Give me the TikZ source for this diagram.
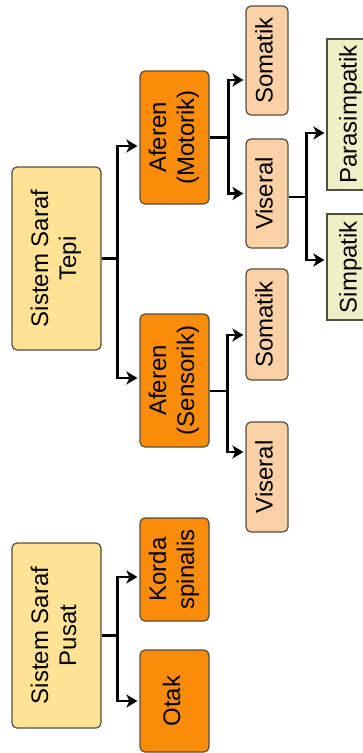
\documentclass[tikz,border=0pt]{standalone}
\usepackage{fontspec}
\setmainfont{Liberation Sans}
\usepackage{graphicx}
\usetikzlibrary{arrows.meta}
\definecolor{kuning}{RGB}{255,226,148}
\definecolor{oranye}{RGB}{250,140,10}
\definecolor{persik}{RGB}{250,208,165}
\definecolor{hijaumuda}{RGB}{238,240,198}
\definecolor{garis}{RGB}{85,78,62}
\newcommand{\vtext}[1]{\rotatebox{90}{\begin{tabular}{@{}c@{}}#1\end{tabular}}}
\begin{document}
\begin{tikzpicture}[x=1pt,y=-1pt,
    kotak/.style={draw=garis,line width=1.2pt,rounded corners=5pt,inner sep=0pt,
      font=\fontsize{24}{28}\selectfont},
    sistem/.style={kotak,fill=kuning,minimum width=89pt},
    cabang/.style={kotak,fill=oranye,minimum width=69pt},
    jenis/.style={kotak,fill=persik,minimum width=42pt},
    otonom/.style={kotak,fill=hijaumuda,sharp corners,minimum width=48pt},
    panah/.style={line width=2.4pt,-{Stealth[length=11pt,width=13pt,inset=3pt]},shorten >=2pt}]
  \clip (0,0) rectangle (363,753);
  % susunan pusat
  \node[sistem,minimum height=185pt] (pusat) at (56.5,635.5) {\vtext{Sistem Saraf\\Pusat}};
  \node[cabang,minimum height=103pt] (korda) at (174.5,569.5) {\vtext{Korda\\spinalis}};
  \node[cabang,minimum height=102pt] (otak) at (174.5,701) {\vtext{Otak}};
  % susunan tepi
  \node[sistem,minimum height=183pt] (tepi) at (56.5,258.5) {\vtext{Sistem Saraf\\Tepi}};
  \node[cabang,minimum height=133pt] (motorik) at (174.5,137.5) {\vtext{Aferen\\(Motorik)}};
  \node[cabang,minimum height=133pt] (sensorik) at (174.5,380.5) {\vtext{Aferen\\(Sensorik)}};
  \node[jenis,minimum height=109pt] (somatikM) at (267,60.5) {\vtext{Somatik}};
  \node[jenis,minimum height=109pt] (viseralM) at (267,193.5) {\vtext{Viseral}};
  \node[jenis,minimum height=111pt] (somatikS) at (267,324.5) {\vtext{Somatik}};
  \node[jenis,minimum height=110pt] (viseralS) at (267,477) {\vtext{Viseral}};
  \node[otonom,minimum height=151pt] (para) at (351,114.5) {\vtext{Parasimpatik}};
  \node[otonom,minimum height=106pt] (simpatik) at (351,267) {\vtext{Simpatik}};
  \begin{scope}[panah]
    \draw (tepi.east) -- ++(16,0) |- ([yshift=-8.5pt]motorik.west);
    \draw (tepi.east) -- ++(16,0) |- ([yshift=2.5pt]sensorik.west);
    \draw (motorik.east) -- ++(19,0) |- ([yshift=-19.5pt]somatikM.west);
    \draw (motorik.east) -- ++(19,0) |- (viseralM.west);
    \draw ([yshift=-10.5pt]sensorik.east) -- ++(18,0) |- ([yshift=-10.5pt]somatikS.west);
    \draw ([yshift=-10.5pt]sensorik.east) -- ++(18,0) |- ([yshift=25pt]viseralS.west);
    \draw ([yshift=-3.5pt]viseralM.east) -- ++(18,0) |- ([yshift=-18.5pt]para.west);
    \draw ([yshift=-3.5pt]viseralM.east) -- ++(18,0) |- ([yshift=7pt]simpatik.west);
    \draw (pusat.east) -- ++(16,0) |- ([yshift=-7.5pt]korda.west);
    \draw (pusat.east) -- ++(16,0) |- (otak.west);
  \end{scope}
\end{tikzpicture}
\end{document}
